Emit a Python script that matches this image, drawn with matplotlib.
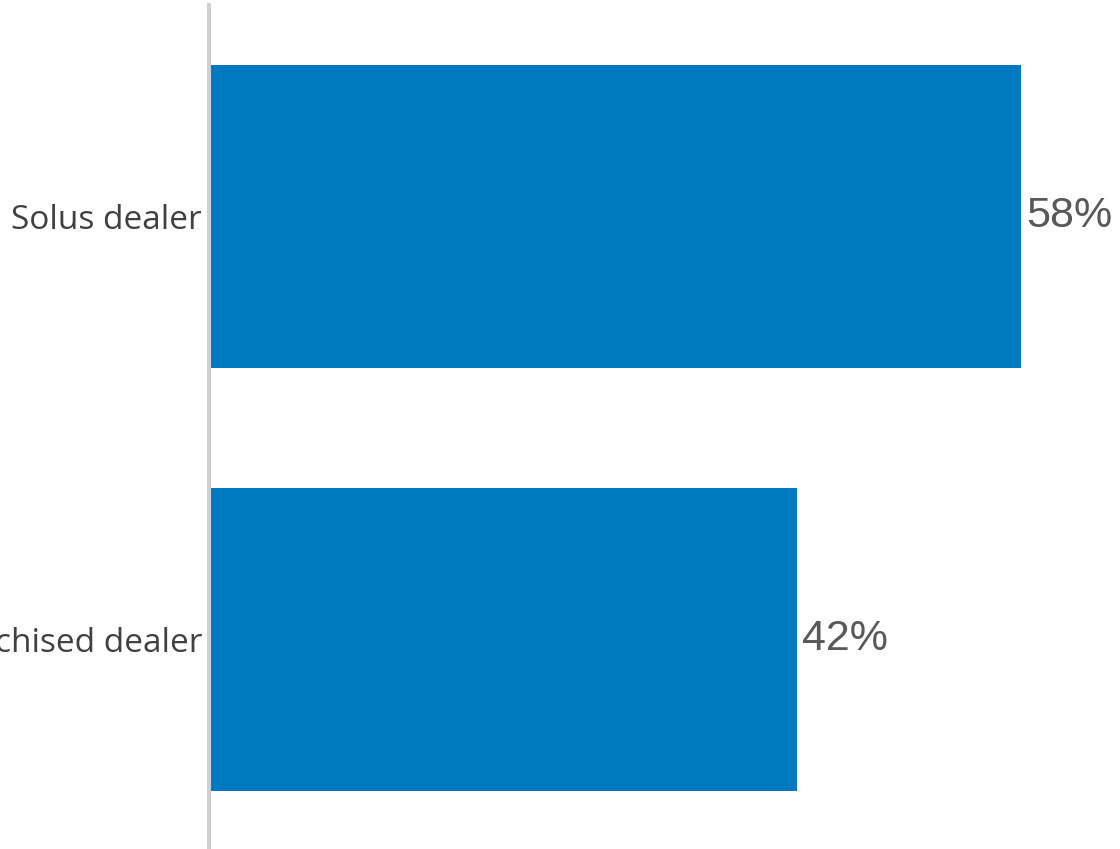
import matplotlib
matplotlib.use("Agg")
import matplotlib.pyplot as plt

categories = ["Franchised dealer", "Solus dealer"]
values = [42, 58]
value_labels = ["42%", "58%"]

W, H, DPI = 1120, 849, 100
fig = plt.figure(figsize=(W / DPI, H / DPI), dpi=DPI)
left = 209 / W
bottom = -2 / H
ax = fig.add_axes([left, bottom, 1 - left, 846 / H])

bar_color = "#0079C1"
ypos = list(range(len(categories)))
ax.barh(ypos, values, height=0.716, color=bar_color, zorder=2)

ax.set_xlim(0, (W - 209) / 14.0)
ax.set_ylim(-0.5, 1.5)
ax.set_yticks(ypos)
ax.set_yticklabels(categories, fontfamily="Open Sans", fontsize=24, color="#404040")
ax.tick_params(axis="y", length=0, pad=5)
ax.set_xticks([])

for s in ["top", "right", "bottom"]:
    ax.spines[s].set_visible(False)
ax.spines["left"].set_color("#d0d0d0")
ax.spines["left"].set_linewidth(4 * 72 / DPI)
ax.spines["left"].set_zorder(3)

for y, v, lab in zip(ypos, values, value_labels):
    ax.annotate(lab, xy=(v, y), xytext=(5 * 72 / DPI, 0.5 * 72 / DPI), textcoords="offset points",
                ha="left", va="center", fontfamily="Liberation Sans", fontsize=31,
                color="#595959", annotation_clip=False)

fig.savefig("out.png", dpi=DPI)
